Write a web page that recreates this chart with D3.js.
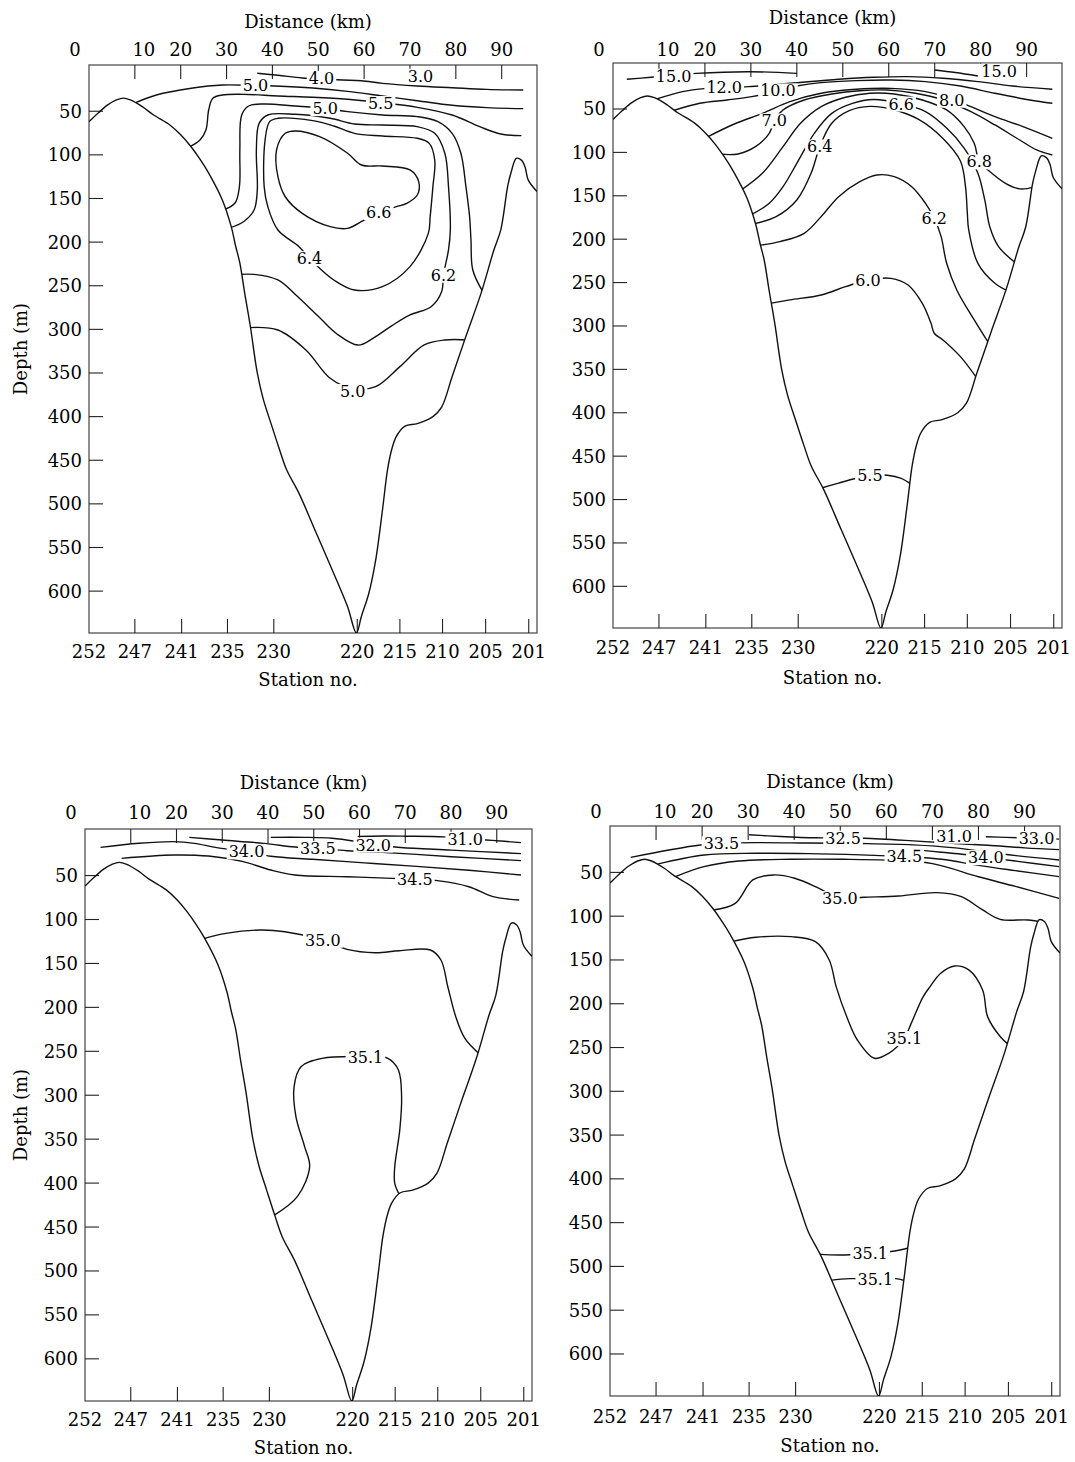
<!DOCTYPE html>
<html><head><meta charset="utf-8">
<script src="https://cdn.jsdelivr.net/npm/d3@7"></script>
<style>
body{margin:0;background:#fff}
text{font-family:"DejaVu Serif",serif;fill:#000}
</style></head>
<body><svg id="c" width="1075" height="1462"></svg>
<script>
// ---------- axes data ----------
const distanceTicks = [10,20,30,40,50,60,70,80,90];
const distanceLabels = [0,10,20,30,40,50,60,70,80,90];
const depthTicks = [50,100,150,200,250,300,350,400,450,500,550,600];
const stationNames = ["252","247","241","235","230","220","215","210","205","201"];
const stationKm = [0,10,20.2,30.2,40.3,58.5,67.8,77.1,86.5,95.9];

// ---------- bottom topography (km, depth m) ----------
const topography = [[0,62],[2,52],[4,43],[6,37],[7.5,35],[9,37],[11.7,45],[14,54],[17.7,66],[20,77],[22.3,91],[24.2,105],[26.1,121],[29.1,152],[31,182],[32,205],[32.9,224],[34,260],[35.2,297],[36.7,350],[38,380],[39.7,408],[41.5,437],[43.1,461],[45.8,488],[49.6,534],[53.4,580],[56.4,618],[58.3,648],[59.4,629],[61,603],[62.5,565],[64,507],[65.1,461],[66,438],[67,423],[68.9,411],[71.6,408],[75,400],[76.9,389],[79.2,354],[82.2,308],[85.6,257],[88.3,209],[89.8,186],[91.3,136],[92,121],[93.2,104],[94.3,106],[95.1,114],[95.8,129],[97.7,142]];

// ---------- panel 1 : temperature ----------
const temp1 = [
 {label:"4.0", at:[50.7,12], pts:[[36.7,6.5],[41.2,8.8],[46.5,11.9],[50.7,13],[55.3,14.2],[59.4,15],[64,18],[71.6,21],[79.2,23],[86.7,24.9],[94.7,25.7]]},
 {label:"3.0", at:[72.3,9.6], pts:[]},
 {label:"5.0", at:[36.3,20.6], pts:[[9.8,41],[14.7,31.4],[22.3,23.7],[29.1,19.9],[36.3,20.5],[40.5,21.1],[48.8,23.4],[56.4,27.2],[64,32.5],[71.6,37.9],[79.2,43.2],[86.7,45.9],[94.7,47]]},
 {label:"5.5", at:[63.6,40.9], pts:[[21.5,92],[24.2,83],[25.5,71.5],[26.1,48.6],[27,35.2],[29.1,31.4],[33.7,30.6],[41.2,32.5],[48.8,34],[56.4,36.3],[63.6,40],[71.6,45.5],[79.2,54.3],[85.2,67.7],[89.8,76.1],[94.3,78]]},
 {label:"5.0", at:[51.5,46.7], pts:[[28.8,164],[31.8,155.5],[32.8,136.4],[32.9,94.4],[33.3,54.3],[34.8,44],[38.2,41.7],[45,44],[51.5,46.7],[56.4,50.5],[64,54.3],[71.6,56.2],[76.1,61.9],[79.2,75.3],[81.1,98.2],[82.2,136.4],[83,170.8],[83.3,197.6],[83.7,232],[86,258]]},
 {label:"6.2", at:[77.3,237.7], pts:[[30.5,184],[33.7,176.6],[36,163.2],[36.7,140.3],[36.5,94.4],[37.1,63.9],[39,54.3],[45,53.5],[52.6,58.1],[57.9,64.6],[64,65.8],[71.6,67.7],[75.4,75.3],[77.6,98.2],[78.4,136.4],[78.8,186.1],[78.4,209],[77.3,237.7],[76.9,256.8],[74.6,274],[70,283.5],[66,296],[62,310],[58.7,318],[54,305],[50,285],[45,260],[41.2,243.4],[36,237],[33,237]]},
 {label:"6.4", at:[48.1,218.6], closed:true, pts:[[39.4,61.9],[41.2,58.1],[48.8,60.8],[53.4,66.9],[57.9,75.3],[64,78.4],[71.6,81],[74.2,86.8],[75.4,105.9],[75,136.4],[74.4,170.8],[74,190],[70,228.1],[64,251],[57.9,254.9],[53.4,243.4],[50.3,230],[48.1,218.6],[45.8,205.2],[41.2,186.1],[39,159.4],[38.2,136.4],[38.4,83]]},
 {label:"6.6", at:[63.2,166], closed:true, pts:[[42.8,75.3],[45,72.6],[50.3,79.1],[56.4,98.2],[59.4,111.6],[64,112.8],[70,117.3],[71.9,130.7],[71.6,146],[69.3,155.5],[67,159.4],[63.2,166],[59.8,175.4],[56.4,184.2],[52.6,182.3],[46.5,167],[42.8,148],[41.2,125],[40.9,94.4]]},
 {label:"5.0", at:[57.5,371], pts:[[34.9,298],[41.2,300.7],[47.3,323.6],[52.6,356.1],[57.5,368],[62.5,365.7],[67.8,342.7],[73.1,317.9],[77.6,312.2],[82.6,312.2]]}
];

// ---------- panel 2 : temperature ----------
const temp2 = [
 {label:"15.0", at:[13.2,12], pts:[[3,15.8],[8.3,13.5],[13.2,11],[18.1,8.9],[29.4,7],[40,8.9]]},
 {label:"15.0", at:[84,6.2], pts:[[70,5],[74.5,8],[79.4,12]]},
 {label:"12.0", at:[24.2,25], pts:[[9.2,39],[15.1,30],[20.4,26.2],[24.2,25],[29.4,24.2],[38.5,20.4],[49.1,15.8],[56.7,13.5],[64.2,12.7],[71.8,14.6],[79.4,18.5],[86.9,23.5],[95.6,27.3]]},
 {label:"10.0", at:[35.9,28.9], pts:[[13,52],[18.9,43.4],[24.9,39.6],[30.2,35.8],[33.2,32.7],[35.9,28.9],[40,23.5],[45.3,19.6],[52.9,17.3],[60.5,16.6],[68,18.5],[75.6,23.5],[83.1,31.9],[90.7,39.6],[95.6,43.4]]},
 {label:"8.0", at:[73.7,39.6], pts:[[20.6,82],[26.4,67.3],[32.5,55],[38.5,41.5],[45.3,31.9],[52.9,27.3],[60.5,26.2],[68,30],[73.7,38],[77.9,47.3],[83.1,58.8],[89.2,70.3],[95.6,83.8]]},
 {label:"7.0", at:[35.1,63.4], pts:[[23.2,102],[27.2,101.8],[31,93.4],[34,78],[35.1,63.4],[37,51.1],[41.6,39.6],[47.6,32.7],[53.7,28.9],[59.7,28.1],[65.8,31.9],[71.8,39.6],[77.9,53.1],[83.1,68.4],[88.5,85.7],[92.2,97.2],[95.6,103]]},
 {label:"6.8", at:[79.7,110.7], pts:[[27.9,143.3],[32.5,124.1],[37,93.4],[40.8,66.5],[45.3,47.3],[50.6,36.5],[55.9,31.9],[61.2,32.7],[67.3,39.6],[72.6,51.1],[76.4,70.3],[78.6,89.5],[79.7,110.7],[81.6,120.3],[85.4,135.6],[88.5,142],[91.6,140]]},
 {label:"6.6", at:[62.7,44], pts:[[30,172],[34,158.7],[37,139.5],[40,112.6],[43.8,78],[47.6,55],[52.1,43.5],[56.7,39],[62.7,44],[68,53],[72.6,72],[76.4,95],[79.4,124],[80.9,155],[82,186],[83.9,208.6],[87.7,227.8]]},
 {label:"6.4", at:[45,93.4], pts:[[30.8,182],[35.5,174],[40,154.8],[43.1,124.1],[45,93.4],[47.6,66.5],[51.4,52],[55.9,47],[60.5,50],[66.5,62],[71.8,84],[75.6,110],[76.7,139.5],[77.1,170],[77.4,189.4],[79.4,227.8],[83.1,250.8],[86.2,260.4]]},
 {label:"6.2", at:[69.9,175.9], pts:[[31.9,207],[36.3,202.8],[41.6,193.2],[45.3,174],[49.1,151],[53.7,133.7],[57.4,126],[61.2,127.9],[65,139.5],[68,158.7],[69.9,175.9],[71.4,197.1],[72.6,227.8],[74.8,258.5],[78.6,293.1],[82,321.9]]},
 {label:"6.0", at:[55.5,247], pts:[[34.2,274],[38.5,270],[45.3,264.3],[50.6,254.7],[55.5,247],[60.5,245.1],[64.2,252.8],[67.3,273.9],[69.2,296.9],[69.9,308.4],[71.8,316.1],[75.6,335.3],[79.7,364.1]]},
 {label:"5.5", at:[55.9,472], pts:[[45.2,487],[49.1,481],[52.9,475.5],[55.9,472],[59.7,472],[62.7,475.5],[64.8,482]]}
];

// ---------- panel 3 : salinity ----------
const salt3 = [
 {label:"31.0", at:[83.1,8.4], pts:[[59.6,5.5],[65,5],[70,5.2],[78.5,6],[83.1,8],[89,10],[95.3,12.5]]},
 {label:"32.0", at:[63,15], pts:[[40.6,6.5],[48,6.5],[54,7.5],[59,11],[63,15],[69,18],[80,21],[95.3,25]]},
 {label:"33.5", at:[50.9,19], pts:[[22.8,6.5],[30,9.6],[39.1,13.3],[45.9,17.5],[50.9,19],[57.3,21.7],[68.7,24.7],[80.1,28.5],[95.3,33]]},
 {label:"34.0", at:[35.3,22.8], pts:[[3.4,17.9],[11.8,13.3],[19.4,11.4],[23.9,13.3],[28.5,17.9],[35.3,22.8],[40.6,28],[49.7,31.5],[61.1,35.5],[72.5,39.5],[83.9,44],[95.3,49.4]]},
 {label:"34.5", at:[72.1,54], pts:[[8,30.4],[19.4,26.6],[27,27.8],[34.6,34.2],[40.6,43.7],[45.9,49.4],[57.3,51.3],[67.2,53.2],[72.1,54],[77,55.8],[83.9,62.7],[89.2,74],[94.9,77.8]]},
 {label:"35.0", at:[52,123.4], pts:[[25.8,122],[30.8,115.8],[38.3,112],[43.7,113.9],[52,123.4],[57.3,134],[63.4,137.8],[68.7,135.5],[75.5,134.7],[77.8,146.1],[79.3,176.5],[81,210],[83,235],[86.2,253]]},
 {label:"35.1", at:[61.3,256.5], pts:[[41.2,437],[46.4,415.4],[49.1,381.3],[48,358.5],[46.1,324.4],[45.7,290.2],[47.2,267.5],[51.8,258],[61.3,256.1],[66.2,258],[68.5,271.2],[69.2,301.6],[68.8,339.5],[67.7,381.3],[67.7,400.2],[68.8,414]]}
];

// ---------- panel 4 : salinity ----------
const salt4 = [
 {label:"31.0", at:[74.7,8.4], pts:[]},
 {label:"32.5", at:[50.6,10.5], pts:[[30.2,7],[37,9],[44.6,10.5],[50.6,10.5],[55.2,11],[65.8,14],[75,17],[82,19],[90,22],[97.5,24]]},
 {label:"33.0", at:[92.6,11], pts:[[81.6,9.2],[86,10],[92.6,11],[97.5,12]]},
 {label:"33.5", at:[24.2,17], pts:[[4.5,32.8],[12.8,24.4],[19.6,18.7],[24.2,17],[31.7,16],[43.1,16.5],[54.4,17],[65.8,18.5],[75,22],[85,29],[97.5,35.8]]},
 {label:"34.5", at:[63.9,32], pts:[[10.3,40.5],[20.4,30.1],[31.7,28.2],[43.1,28.5],[54.4,30],[63.9,32],[72,35],[80,42],[88,48],[97.5,54.8]]},
 {label:"34.0", at:[81.6,32.8], pts:[[66,24],[72,27],[77,29.5],[81.6,32.8],[88,37],[97.5,43.4]]},
 {label:"", at:null, pts:[[14.1,55],[20.4,43.4],[28,37],[39.3,35],[50.6,35],[60,36],[70,40],[80,55],[88,66],[97.5,79.6]]},
 {label:"35.0", at:[49.9,79.6], pts:[[22.4,93],[27.2,85.3],[31,58.6],[35.5,52.9],[40.1,56.7],[45.4,68.2],[49.9,79.6],[55.2,78.4],[62.7,76.9],[71,73.1],[76.3,77.7],[80.9,92.9],[84.7,103.6],[90.7,104.3],[94,107]]},
 {label:"35.1", at:[63.9,239.5], pts:[[26.5,129.1],[31.7,124.1],[39.3,123.4],[44.6,129.1],[47.6,150],[49.1,180.4],[51.4,214.8],[53.7,241.4],[57.4,262.3],[60.5,256.6],[63.9,239.5],[65.4,222.4],[68,191.9],[69.5,180.4],[71.8,165.2],[74.8,156.9],[77.9,161.4],[80.9,184.3],[82,215],[84.8,238],[86.6,247]]},
 {label:"35.1", at:[56.5,485], pts:[[45.2,486],[50,487],[56.5,485],[61,483],[64.8,479]]},
 {label:"35.1", at:[57.6,514.4], pts:[[47.8,516],[52,514],[57.6,514.4],[62,514],[63.8,516]]}
];

// ---------- layout ----------
const X_DOMAIN = [0, 97.7], Y_DOMAIN = [-3, 648];
const panels = [
 {lines:temp1, L:89,  R:537,  T:65,  B:633,  titleY:28,  numY:56,  stY:658,  stTitleY:686, depthTitle:true},
 {lines:temp2, L:613, R:1062, T:63,  B:628,  titleY:24,  numY:56,  stY:654,  stTitleY:684, depthTitle:false},
 {lines:salt3, L:85,  R:532,  T:829, B:1401, titleY:789, numY:819, stY:1426, stTitleY:1454, depthTitle:true},
 {lines:salt4, L:610, R:1060, T:826, B:1396, titleY:788, numY:818, stY:1423, stTitleY:1452, depthTitle:false}
];
const labelNudge = [-14, 9, 0, 0, 0, 0, 0, 0, 0, 0];

const svg = d3.select("#c");
const defs = svg.append("defs");

panels.forEach((p, i) => {
  const x = d3.scaleLinear().domain(X_DOMAIN).range([p.L, p.R]);
  const y = d3.scaleLinear().domain(Y_DOMAIN).range([p.T, p.B]);
  const g = svg.append("g");
  const line = d3.line().x(d => x(d[0])).y(d => y(d[1])).curve(d3.curveCatmullRom.alpha(0.5));
  const lineClosed = d3.line().x(d => x(d[0])).y(d => y(d[1])).curve(d3.curveCatmullRomClosed.alpha(0.5));

  const topoPath = line(topography);
  defs.append("clipPath").attr("id", "water" + i)
    .append("path").attr("d", topoPath + `L${x(X_DOMAIN[1])},${y(Y_DOMAIN[0])}L${x(X_DOMAIN[0])},${y(Y_DOMAIN[0])}Z`);
  defs.append("clipPath").attr("id", "frame" + i)
    .append("rect").attr("x", p.L).attr("y", p.T).attr("width", p.R - p.L).attr("height", p.B - p.T);

  g.append("rect").attr("x", p.L).attr("y", p.T).attr("width", p.R - p.L).attr("height", p.B - p.T)
    .attr("fill", "none").attr("stroke", "#444").attr("stroke-width", 1.2);

  g.selectAll(".tt").data(distanceTicks).join("line")
    .attr("x1", d => x(d)).attr("x2", d => x(d)).attr("y1", p.T).attr("y2", p.T + 14)
    .attr("stroke", "#222").attr("stroke-width", 1.1);
  g.selectAll(".bt").data(stationKm.slice(1)).join("line")
    .attr("x1", d => x(d)).attr("x2", d => x(d)).attr("y1", p.B).attr("y2", p.B - 14)
    .attr("stroke", "#222").attr("stroke-width", 1.1);
  g.selectAll(".lt").data(depthTicks).join("line")
    .attr("x1", p.L).attr("x2", p.L + 14).attr("y1", d => y(d)).attr("y2", d => y(d))
    .attr("stroke", "#222").attr("stroke-width", 1.1);

  g.selectAll(".dl").data(distanceLabels).join("text")
    .attr("x", (d, k) => x(d) + labelNudge[k]).attr("y", p.numY)
    .attr("text-anchor", "middle").attr("font-size", 18).text(d => d);
  g.selectAll(".sl").data(stationNames).join("text")
    .attr("x", (d, k) => x(stationKm[k])).attr("y", p.stY)
    .attr("text-anchor", "middle").attr("font-size", 18).text(d => d);
  g.selectAll(".yl").data(depthTicks).join("text")
    .attr("x", p.L - 7).attr("y", d => y(d)).attr("dy", "0.36em")
    .attr("text-anchor", "end").attr("font-size", 18).text(d => d);

  const cx = (p.L + p.R) / 2 - 5;
  g.append("text").attr("x", cx).attr("y", p.titleY).attr("text-anchor", "middle")
    .attr("font-size", 18).text("Distance (km)");
  g.append("text").attr("x", cx).attr("y", p.stTitleY).attr("text-anchor", "middle")
    .attr("font-size", 18).text("Station no.");
  if (p.depthTitle) {
    g.append("text").attr("transform", `translate(27,${(p.T + p.B) / 2}) rotate(-90)`)
      .attr("text-anchor", "middle").attr("font-size", 18).text("Depth (m)");
  }

  g.append("path").attr("d", topoPath).attr("clip-path", `url(#frame${i})`)
    .attr("fill", "none").attr("stroke", "#111").attr("stroke-width", 1.4);

  const cg = g.append("g").attr("clip-path", `url(#water${i})`);
  p.lines.filter(c => c.pts.length).forEach(c => {
    cg.append("path").attr("d", c.closed ? lineClosed(c.pts) : line(c.pts))
      .attr("fill", "none").attr("stroke", "#111").attr("stroke-width", 1.4);
  });

  p.lines.filter(c => c.label && c.at).forEach(c => {
    const lg = g.append("g");
    const t = lg.append("text").attr("x", x(c.at[0])).attr("y", y(c.at[1])).attr("dy", "0.36em")
      .attr("text-anchor", "middle").attr("font-size", 16).text(c.label);
    const bb = t.node().getBBox();
    lg.insert("rect", "text").attr("x", bb.x - 2).attr("y", bb.y + 2)
      .attr("width", bb.width + 4).attr("height", bb.height - 4).attr("fill", "#fff");
  });
});
</script>
</body></html>
